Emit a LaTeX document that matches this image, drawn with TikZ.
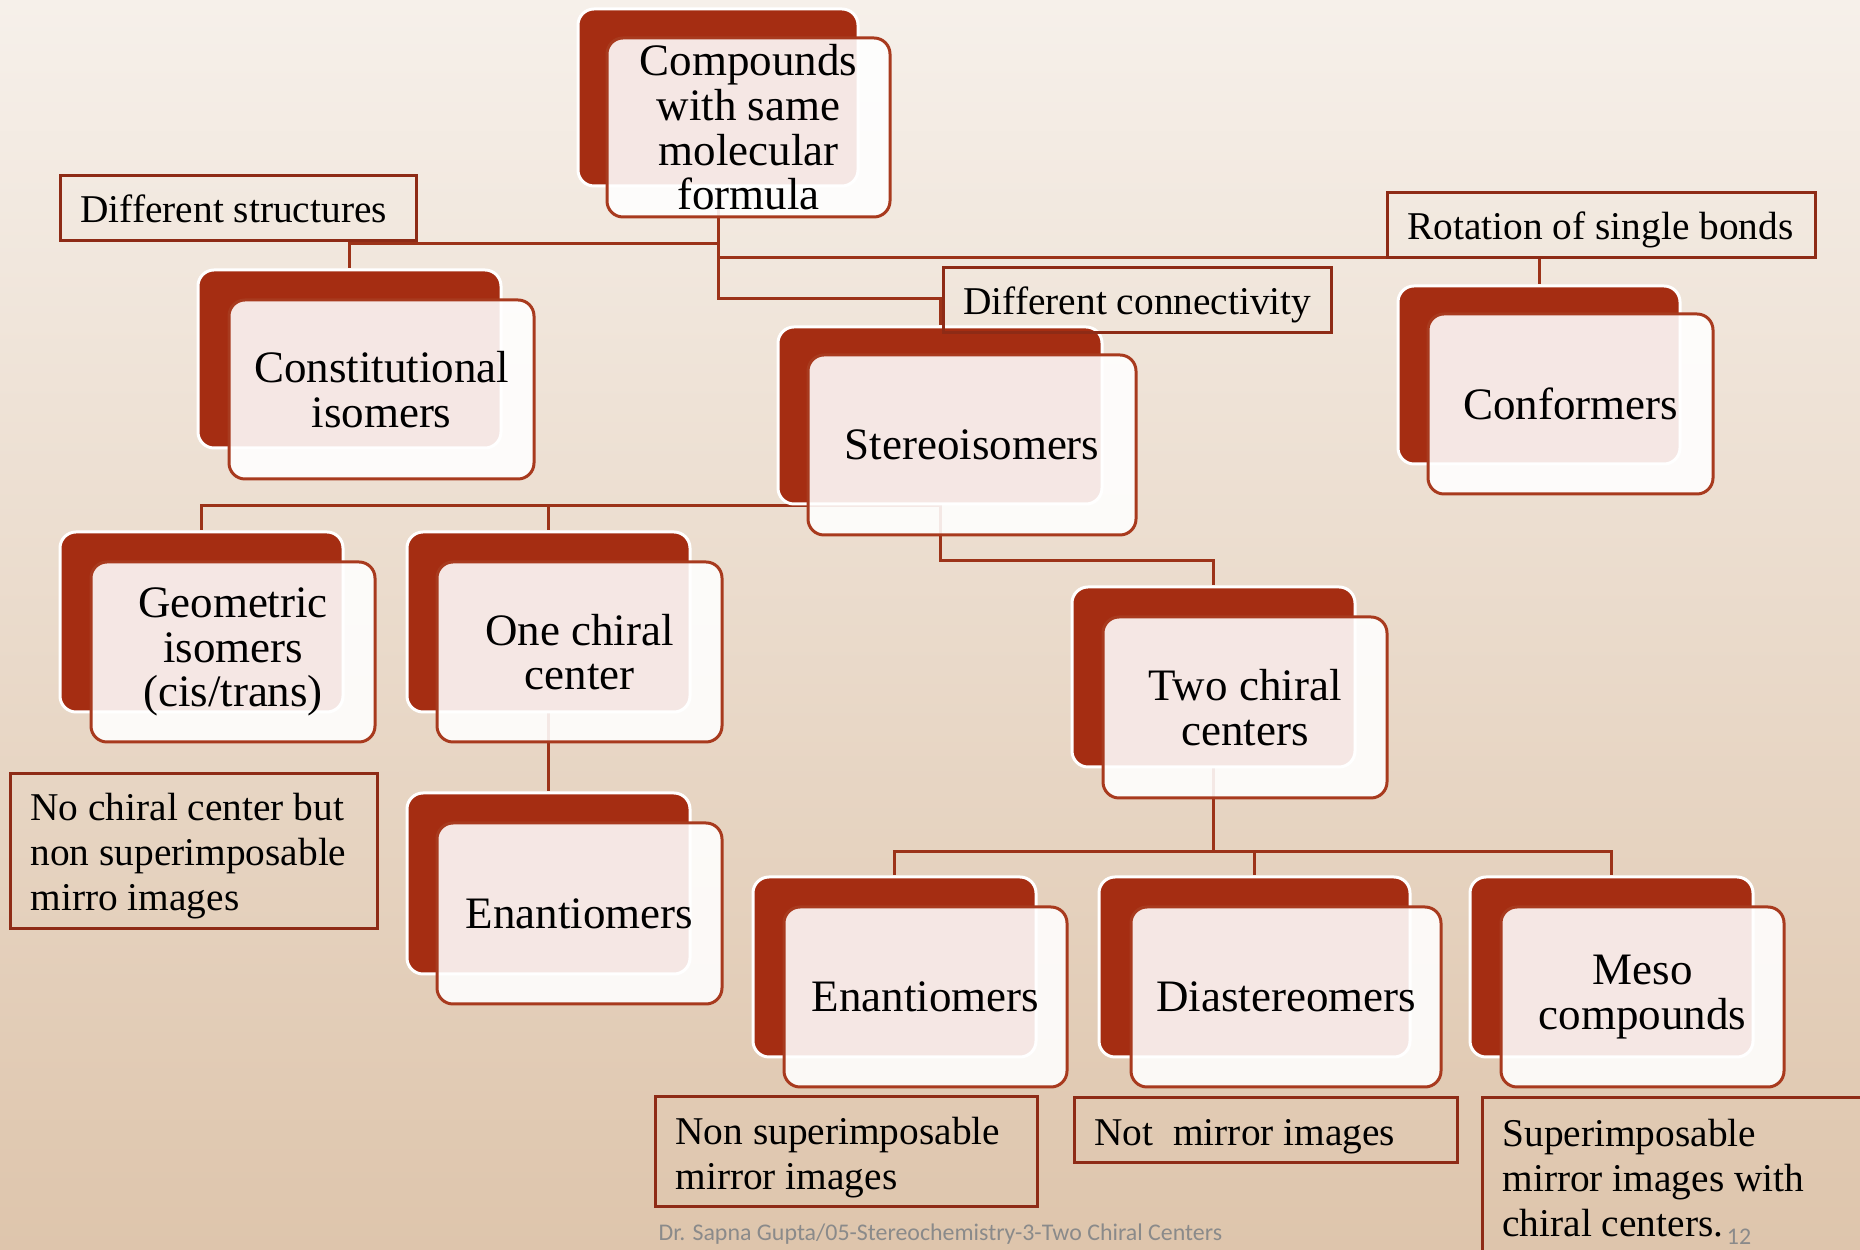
\documentclass[tikz,border=0pt]{standalone}
\usepackage{fontspec}
\setmainfont{Liberation Serif}
\newfontfamily\ftfamily{Carlito}
\usetikzlibrary{calc}
\definecolor{bgtop}{HTML}{F6F0EA}
\definecolor{bgbot}{HTML}{DEC5AC}
\definecolor{deepred}{HTML}{A52D12}
\definecolor{framered}{HTML}{A83A1E}
\definecolor{labelred}{HTML}{8E2B16}
\definecolor{linered}{HTML}{9C3319}
\definecolor{footgray}{HTML}{8A8A8A}
\newcommand\bxfont{\fontsize{12.8}{12.7}\selectfont}
\newcommand\lbfont{\fontsize{11.2}{12.8}\selectfont}
\newcommand\ftfont{\ftfamily\fontsize{6.8}{7}\selectfont}
\newcommand\lowr[1]{\rule{0pt}{#1}}
\pgfdeclarelayer{bg}
\pgfsetlayers{bg,main}
\tikzset{
  backbox/.style={draw=white, line width=0.3mm, fill=deepred, rounded corners=1.6mm, inner sep=0pt},
  frontbox/.style={draw=framered, line width=0.3mm, fill=white, fill opacity=0.89, text opacity=1,
    rounded corners=1.6mm, align=center, font=\bxfont, inner sep=0pt},
  lbl/.style={draw=labelred, line width=0.3mm, align=flush left, font=\lbfont, inner xsep=2mm, inner ysep=0pt, anchor=west},
  conn/.style={draw=linered, line width=0.3mm}
}
\begin{document}
\begin{tikzpicture}[x=0.1mm,y=-0.1mm]
\useasboundingbox (0,0) rectangle (1860,1250);
\clip (0,0) rectangle (1860,1250);
\begin{pgfonlayer}{bg}
\shade[top color=bgtop, bottom color=bgbot] (0,0) rectangle (1860,1250);
\end{pgfonlayer}

% back boxes
\node[backbox, minimum width=28.0mm, minimum height=17.7mm] (cmpB) at (718,97.5) {};
\node[backbox, minimum width=30.3mm, minimum height=17.8mm] (conB) at (349.5,359) {};
\node[backbox, minimum width=32.4mm, minimum height=17.7mm] (steB) at (940,415.5) {};
\node[backbox, minimum width=28.2mm, minimum height=17.8mm] (cnfB) at (1539,375) {};
\node[backbox, minimum width=28.3mm, minimum height=18.0mm] (geoB) at (201.5,622) {};
\node[backbox, minimum width=28.3mm, minimum height=18.0mm] (oneB) at (548.5,622) {};
\node[backbox, minimum width=28.3mm, minimum height=18.1mm] (en1B) at (548.5,883.5) {};
\node[backbox, minimum width=28.3mm, minimum height=18.0mm] (twoB) at (1213.5,677) {};
\node[backbox, minimum width=28.3mm, minimum height=18.0mm] (en2B) at (894.5,967) {};
\node[backbox, minimum width=31.1mm, minimum height=18.0mm] (diaB) at (1254.5,967) {};
\node[backbox, minimum width=28.3mm, minimum height=18.0mm] (mesB) at (1611.5,967) {};

% front boxes
\node[frontbox, minimum width=28.3mm, minimum height=17.9mm] (cmp) at (748.5,127.5) {Compounds\\with same\\molecular\\formula};
\node[frontbox, minimum width=30.5mm, minimum height=17.9mm] (con) at (381.5,389.5) {Constitutional\\isomers};
\node[frontbox, minimum width=32.8mm, minimum height=18.0mm] (ste) at (972,445) {Stereoisomers};
\node[frontbox, minimum width=28.5mm, minimum height=18.0mm] (cnf) at (1570.5,404) {Conformers};
\node[frontbox, minimum width=28.4mm, minimum height=18.0mm] (geo) at (233,652) {Geometric\\isomers\\(cis/trans)};
\node[frontbox, minimum width=28.5mm, minimum height=18.0mm] (one) at (579.5,652) {One chiral\\center};
\node[frontbox, minimum width=28.5mm, minimum height=18.1mm] (en1) at (579.5,913.5) {Enantiomers};
\node[frontbox, minimum width=28.4mm, minimum height=18.1mm] (two) at (1245,707.5) {Two chiral\\centers};
\node[frontbox, minimum width=28.3mm, minimum height=18.0mm] (en2) at (925.5,997) {Enantiomers};
\node[frontbox, minimum width=31.0mm, minimum height=18.0mm] (dia) at (1286,997) {Diastereomers};
\node[frontbox, minimum width=28.3mm, minimum height=18.0mm] (mes) at (1642.5,997) {Meso\\compounds};

% junctions
\coordinate (j1) at (718,244);
\coordinate (j2) at (718,258);
\coordinate (j3) at (718,299);
\coordinate (sj) at (940,506);
\coordinate (sk) at (940,561);
\coordinate (tj) at (1213.5,852);

\begin{pgfonlayer}{bg}
\draw[conn] (cmpB.south) -- (j1) -| (conB.north);
\draw[conn] (cmpB.south) -- (j2) -| (cnfB.north);
\draw[conn] (cmpB.south) -- (j3) -| (steB.north);
\draw[conn] (steB.south) -- (sj) -| (geoB.north);
\draw[conn] (sj) -| (oneB.north);
\draw[conn] (steB.south) -- (sk) -| (twoB.north);
\draw[conn] (oneB.south) -- (en1B.north);
\draw[conn] (twoB.south) -- (tj) -| (en2B.north);
\draw[conn] (tj) -| (diaB.north);
\draw[conn] (tj) -| (mesB.north);
\end{pgfonlayer}

% label boxes
\node[lbl, text width=31.6mm, minimum height=6.5mm] (dst) at (59,208.5) {\mbox{Different structures}};
\node[lbl, text width=38.8mm, minimum height=6.5mm] (rot) at (1386,225.5) {\mbox{\lowr{10.5pt}Rotation of single bonds}};
\node[lbl, text width=34.8mm, minimum height=6.5mm] (dcn) at (942,300.5) {\mbox{\lowr{10.5pt}Different connectivity}};
\node[lbl, text width=32.7mm, minimum height=15.5mm] (nch) at (9,851.5) {\mbox{\lowr{10.5pt}No chiral center but}\\\mbox{non superimposable}\\\mbox{mirro images}};
\node[lbl, text width=34.2mm, minimum height=11.0mm] (nsi) at (654,1152) {\mbox{\lowr{10.9pt}Non superimposable}\\\mbox{mirror images}};
\node[lbl, text width=34.3mm, minimum height=6.5mm] (nmi) at (1073,1130.5) {\mbox{\lowr{10.9pt}Not\ \ mirror images}};
\node[lbl, text width=37.9mm, minimum height=16.0mm] (sup) at (1481,1178) {\mbox{Superimposable}\\\mbox{mirror images with}\\\mbox{chiral centers.}};

% footer
\node[font=\ftfont, text=footgray, anchor=west, inner sep=0pt] (foot) at (658,1234) {Dr. Sapna Gupta/05-Stereochemistry-3-Two Chiral Centers};
\node[font=\ftfont, text=footgray, inner sep=0pt] (pg) at (1739,1237) {12};
\end{tikzpicture}
\end{document}
